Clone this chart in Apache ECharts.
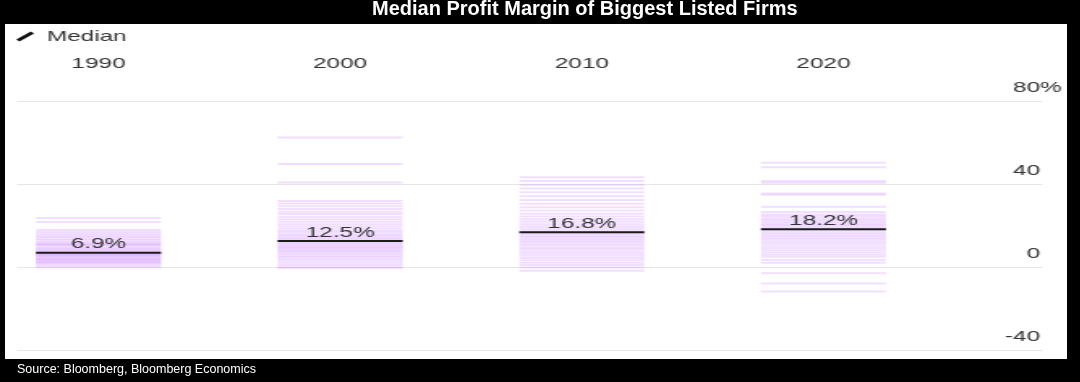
<!DOCTYPE html>
<html><head><meta charset="utf-8">
<script src="https://cdn.jsdelivr.net/npm/echarts@6/dist/echarts.min.js"></script>
<style>
html,body{margin:0;padding:0;background:#000;overflow:hidden;width:1080px;height:382px}
#base{position:absolute;left:0;top:0;width:1080px;height:382px}
#plot{position:absolute;left:0;top:0;width:666.67px;height:382px;transform:scaleX(1.62);transform-origin:0 0}
</style></head><body>
<div id="base"></div><div id="plot"></div>
<script>
// ---- data ----
const years = ['1990', '2000', '2010', '2020'];
const medians = [6.9, 12.5, 16.8, 18.2];
const firms1990 = [23.6, 21.7, 17.8, 16.9, 16.0, 15.2, 14.4, 13.6, 12.9, 12.1, 11.3, 11.0, 10.6, 9.9, 9.2, 8.6, 8.0, 7.5, 6.9, 6.4, 6.1, 5.8, 5.4, 5.0, 4.6, 4.0, 3.7, 3.4, 2.8, 2.4, 2.1, 1.4, 0.6, -0.3];
const firms2000 = [62.4, 49.6, 40.7, 31.8, 30.6, 29.3, 28.0, 26.6, 25.5, 24.2, 23.0, 21.8, 20.6, 19.5, 18.4, 17.4, 16.5, 15.6, 14.8, 14.0, 13.3, 12.6, 12.0, 11.4, 10.8, 10.2, 9.6, 9.0, 8.4, 7.8, 7.1, 6.4, 5.6, 4.8, 4.0, 3.1, 2.2, 1.2, 0.2, -0.5];
const firms2010 = [43.2, 41.5, 39.6, 37.8, 36.0, 34.1, 32.3, 30.5, 28.8, 27.2, 25.7, 24.3, 23.0, 21.8, 20.6, 19.5, 18.5, 17.6, 16.8, 16.0, 15.2, 14.4, 13.6, 12.8, 12.0, 11.1, 10.2, 9.3, 8.4, 7.4, 6.4, 5.4, 4.3, 3.2, 2.1, 1.0, -0.2, -1.8];
const firms2020 = [50.2, 48.1, 41.5, 40.6, 35.4, 34.8, 29.0, 26.5, 25.3, 24.4, 23.5, 22.6, 21.8, 21.0, 20.2, 19.4, 18.6, 17.7, 16.8, 15.9, 15.0, 14.1, 13.2, 12.3, 11.3, 10.3, 9.2, 8.1, 7.0, 5.9, 5.0, 3.4, 2.0, -3.0, -8.0, -11.8];
const yMin = -40, yMax = 80, yStep = 40;
const titleText = 'Median Profit Margin of Biggest Listed Firms';
const sourceText = 'Source: Bloomberg, Bloomberg Economics';

const FONT = '"Liberation Sans", Arial, Helvetica, sans-serif';
const firmSets = [firms1990, firms2000, firms2010, firms2020];
const firmData = [];
firmSets.forEach((arr, i) => arr.forEach(v => firmData.push([i, v])));
const medianData = medians.map((v, i) => [i, v]);
const COLW = 0.5176;

// ---- base layer: frame, title, source ----
const base = echarts.init(document.getElementById('base'));
base.setOption({
  backgroundColor: '#000',
  animation: false,
  title: [
    {text: titleText, left: 372, top: -1, padding: 0,
     textStyle: {color: '#fff', fontSize: 20, fontWeight: 'bold', fontFamily: FONT}},
    {text: sourceText, left: 17, top: 363, padding: 0,
     textStyle: {color: '#fff', fontSize: 12.5, fontWeight: 'normal', fontFamily: FONT}}
  ],
  graphic: [{type: 'rect', shape: {x: 5, y: 24, width: 1062, height: 335}, style: {fill: '#fff'}, z: -1}]
});

// ---- plot layer (horizontally stretched like the reference) ----
const plot = echarts.init(document.getElementById('plot'));
plot.setOption({
  animation: false,
  textStyle: {fontFamily: FONT},
  legend: {
    left: 10, top: 29, padding: 0, itemWidth: 11, itemHeight: 10,
    data: [{name: 'Median', icon: 'path://M0,8 L9,0 L11,2 L2,10 Z'}],
    textStyle: {fontSize: 15, color: '#333', padding: [0, 0, 0, 3]}
  },
  grid: [
    {left: 10.5, right: 23.5, top: 101, bottom: 32},
    {left: 60.8, right: 158.7, top: 101, bottom: 32}
  ],
  xAxis: [
    {gridIndex: 0, type: 'value', show: false, min: 0, max: 1},
    {gridIndex: 1, type: 'category', data: years, position: 'top', boundaryGap: false,
     axisLine: {show: false}, axisTick: {show: false}, splitLine: {show: false},
     axisLabel: {margin: 30, fontSize: 15, color: '#333', interval: 0}}
  ],
  yAxis: [
    {gridIndex: 0, type: 'value', min: yMin, max: yMax, interval: yStep, position: 'right',
     axisLine: {show: false}, axisTick: {show: false},
     splitLine: {lineStyle: {color: '#e6e6e6', width: 1}},
     axisLabel: {
       margin: 11.8, align: 'right', verticalAlign: 'bottom', padding: [0, 0, 6, 0],
       formatter: v => v === yMax ? '{n|' + v + '}{p|%}' : '{n|' + v + '}{p| }',
       rich: {n: {fontSize: 15, color: '#333'}, p: {fontSize: 15, color: '#333', width: 13.3}}
     }},
    {gridIndex: 1, type: 'value', min: yMin, max: yMax, show: false}
  ],
  series: [
    {
      type: 'custom', name: 'Firms', xAxisIndex: 1, yAxisIndex: 1, clip: false,
      data: firmData, silent: true,
      renderItem: (params, api) => {
        const c = api.coord([api.value(0), api.value(1)]);
        const w = api.size([1, 0])[0] * COLW;
        return {type: 'rect', shape: {x: c[0] - w / 2, y: c[1] - 1, width: w, height: 2},
                style: {fill: 'rgba(195,110,255,0.22)'}};
      }
    },
    {
      type: 'custom', name: 'Median', xAxisIndex: 1, yAxisIndex: 1, clip: false,
      data: medianData, itemStyle: {color: '#111'}, z: 5,
      renderItem: (params, api) => {
        const v = api.value(1);
        const c = api.coord([api.value(0), v]);
        const w = api.size([1, 0])[0] * COLW;
        return {type: 'group', children: [
          {type: 'rect', shape: {x: c[0] - w / 2, y: c[1] - 1, width: w, height: 2}, style: {fill: '#1a1a1a'}},
          {type: 'text', x: c[0], y: c[1] - 8.5,
           style: {text: v.toFixed(1) + '%', fill: '#333', fontSize: 15, fontFamily: FONT, align: 'center', verticalAlign: 'middle'}}
        ]};
      }
    }
  ]
});
</script>
</body></html>
